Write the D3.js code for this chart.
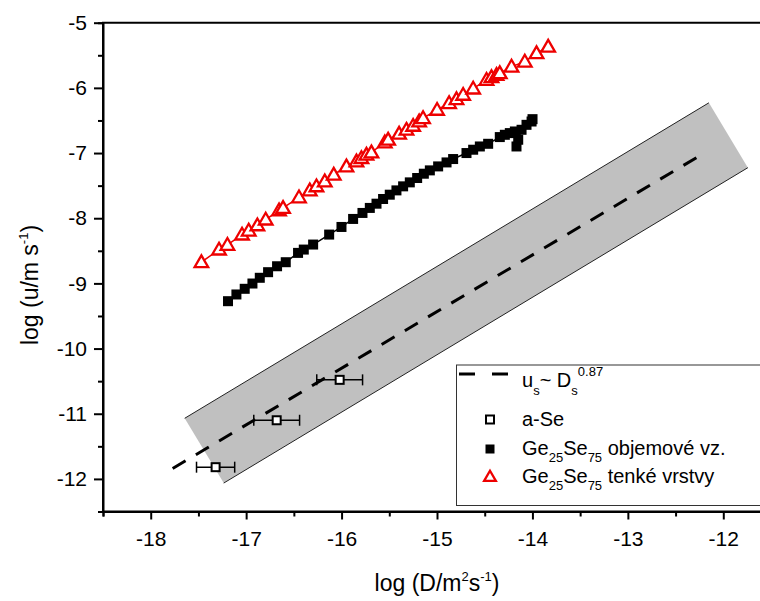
<!DOCTYPE html>
<html><head><meta charset="utf-8">
<script src="https://cdn.jsdelivr.net/npm/d3@7"></script>
<style>body{margin:0;background:#fff;} svg{display:block;font-family:"Liberation Sans",Arial,sans-serif;}</style>
</head><body><svg id="c" width="760" height="601"></svg>
<script>
// Ge25Se75 thin films (red triangles)
const thinX = [-17.469,-17.284,-17.196,-17.043,-16.973,-16.882,-16.795,-16.655,-16.613,-16.446,-16.333,-16.263,-16.176,-16.082,-15.949,-15.844,-15.792,-15.739,-15.687,-15.547,-15.512,-15.397,-15.320,-15.250,-15.187,-15.146,-14.999,-14.873,-14.796,-14.726,-14.621,-14.481,-14.429,-14.376,-14.342,-14.219,-14.080,-13.957,-13.835];
const thinY = [-8.675,-8.481,-8.409,-8.251,-8.190,-8.109,-8.021,-7.879,-7.842,-7.680,-7.573,-7.511,-7.435,-7.332,-7.205,-7.129,-7.077,-7.026,-6.991,-6.838,-6.796,-6.704,-6.643,-6.582,-6.516,-6.464,-6.337,-6.234,-6.173,-6.107,-6.011,-5.877,-5.836,-5.801,-5.775,-5.674,-5.597,-5.469,-5.368];
// Ge25Se75 bulk (black squares)
const bulkX = [-17.190,-17.102,-17.015,-16.934,-16.857,-16.770,-16.676,-16.585,-16.456,-16.396,-16.298,-16.130,-16.001,-15.879,-15.781,-15.704,-15.634,-15.565,-15.495,-15.425,-15.355,-15.285,-15.208,-15.138,-15.075,-14.988,-14.900,-14.831,-14.691,-14.621,-14.551,-14.464,-14.342,-14.289,-14.237,-14.184,-14.167,-14.149,-14.114,-14.062,-14.009,-13.999];
const bulkY = [-9.273,-9.170,-9.083,-9.002,-8.914,-8.828,-8.737,-8.675,-8.532,-8.481,-8.404,-8.251,-8.134,-8.011,-7.919,-7.842,-7.777,-7.705,-7.639,-7.573,-7.511,-7.450,-7.383,-7.317,-7.266,-7.205,-7.144,-7.092,-7.000,-6.949,-6.899,-6.858,-6.755,-6.720,-6.694,-6.669,-6.899,-6.796,-6.643,-6.567,-6.516,-6.480];
// a-Se with x error bars
const aSeX = [-17.32,-16.68,-16.02];
const aSeY = [-11.82,-11.10,-10.48];
const aSeErr = [0.20,0.24,0.24];
// fit line u_s ~ D_s^0.87
const fitX = [-17.77,-12.20];
const fitY = [-11.84,-7.00];
// grey band corners
const bandX = [-17.644,-12.151,-11.742,-17.235];
const bandY = [-11.07,-6.229,-7.224,-12.064];
const xTicks = [-18,-17,-16,-15,-14,-13,-12];
const xMinor = [-18.5,-17.5,-16.5,-15.5,-14.5,-13.5,-12.5];
const yTicks = [-12,-11,-10,-9,-8,-7,-6,-5];
const yMinor = [-12.5,-11.5,-10.5,-9.5,-8.5,-7.5,-6.5,-5.5];

const svg = d3.select('#c');
const x = d3.scaleLinear().domain([-18.5,-11.5]).range([103,771]);
const y = d3.scaleLinear().domain([-12.5,-5]).range([511.5,22.7]);

// band
const band = bandX.map((v,i)=>[x(v),y(bandY[i])]);
svg.append('path').attr('d', d3.line()(band)+'Z').attr('fill','#c0c0c0').attr('stroke','none');
svg.append('path').attr('d', d3.line()([band[0],band[1]])).attr('stroke','#222').attr('stroke-width',1).attr('fill','none');
svg.append('path').attr('d', d3.line()([band[3],band[2]])).attr('stroke','#222').attr('stroke-width',1).attr('fill','none');

// fit line
svg.append('path').attr('d', d3.line()(fitX.map((v,i)=>[x(v),y(fitY[i])])))
  .attr('stroke','#000').attr('stroke-width',3).attr('stroke-dasharray','15,12').attr('fill','none');

// a-Se
const ag = svg.append('g');
aSeX.forEach((v,i)=>{
  const cx=x(v), cy=y(aSeY[i]), l=x(v-aSeErr[i]), r=x(v+aSeErr[i]);
  ag.append('line').attr('x1',l).attr('x2',r).attr('y1',cy).attr('y2',cy).attr('stroke','#000').attr('stroke-width',1.5);
  ag.append('line').attr('x1',l).attr('x2',l).attr('y1',cy-5.5).attr('y2',cy+5.5).attr('stroke','#000').attr('stroke-width',1.5);
  ag.append('line').attr('x1',r).attr('x2',r).attr('y1',cy-5.5).attr('y2',cy+5.5).attr('stroke','#000').attr('stroke-width',1.5);
  ag.append('rect').attr('x',cx-4).attr('y',cy-4).attr('width',8).attr('height',8).attr('fill','#fff').attr('stroke','#000').attr('stroke-width',2);
});

// bulk
svg.append('path').attr('d', d3.line()(bulkX.map((v,i)=>[x(v),y(bulkY[i])]))).attr('stroke','#000').attr('stroke-width',1.5).attr('fill','none');
svg.append('g').selectAll('rect').data(bulkX).join('rect')
  .attr('x',(d)=>x(d)-5).attr('y',(d,i)=>y(bulkY[i])-5).attr('width',10).attr('height',10).attr('fill','#000');

// thin films
svg.append('path').attr('d', d3.line()(thinX.map((v,i)=>[x(v),y(thinY[i])]))).attr('stroke','#e00').attr('stroke-width',1.5).attr('fill','none');
const tri = d3.symbol().type(d3.symbolTriangle).size(80);
svg.append('g').selectAll('path').data(thinX).join('path')
  .attr('d',tri).attr('transform',(d,i)=>`translate(${x(d)},${y(thinY[i])+1})`)
  .attr('fill','#fff').attr('stroke','#e00').attr('stroke-width',2.3);

// axes
const fs = '21px';
const fmt = d => String(d);
const gx = svg.append('g').attr('transform','translate(0,511.5)')
  .call(d3.axisBottom(x).tickValues(xTicks).tickSize(8).tickSizeOuter(0).tickPadding(12).tickFormat(fmt));
gx.append('g').call(d3.axisBottom(x).tickValues(xMinor).tickSize(5).tickFormat(''));
const gy = svg.append('g').attr('transform','translate(103,0)')
  .call(d3.axisLeft(y).tickValues(yTicks).tickSize(9).tickSizeOuter(0).tickPadding(7).tickFormat(fmt));
gy.append('g').call(d3.axisLeft(y).tickValues(yMinor).tickSize(5).tickFormat(''));
svg.selectAll('.domain').attr('stroke','#000').attr('stroke-width',2);
svg.selectAll('.tick line').attr('stroke','#000').attr('stroke-width',2);
svg.selectAll('.tick text').attr('font-size',fs).attr('font-family','"Liberation Sans",Arial,sans-serif').attr('fill','#000');
gx.select('.domain').attr('d','M102,0H771');
gy.select('.domain').attr('d','M0,22.7V512.5');
// top axis line
svg.append('line').attr('x1',102).attr('x2',771).attr('y1',22.7).attr('y2',22.7).attr('stroke','#000').attr('stroke-width',2);

// axis titles
const xt = svg.append('text').attr('x',437).attr('y',591).attr('text-anchor','middle').attr('font-size','23px');
xt.append('tspan').text('log (D/m');
xt.append('tspan').attr('font-size','13px').attr('dy',-10).text('2');
xt.append('tspan').attr('dy',10).text('s');
xt.append('tspan').attr('font-size','13px').attr('dy',-10).text('-1');
xt.append('tspan').attr('dy',10).text(')');
const yt = svg.append('text').attr('transform','translate(38,285) rotate(-90)').attr('text-anchor','middle').attr('font-size','23px');
yt.append('tspan').text('log (u/m s');
yt.append('tspan').attr('font-size','13px').attr('dy',-10).text('-1');
yt.append('tspan').attr('dy',10).text(')');

// legend
const lg = svg.append('g');
lg.append('rect').attr('x',456.5).attr('y',365).attr('width',320).attr('height',140.5).attr('fill','#fff').attr('stroke','#333').attr('stroke-width',1);
lg.append('line').attr('x1',459).attr('x2',508).attr('y1',374).attr('y2',374).attr('stroke','#000').attr('stroke-width',3).attr('stroke-dasharray','16,17');
const t1 = lg.append('text').attr('x',522).attr('y',387).attr('font-size','20px');
t1.append('tspan').text('u');
t1.append('tspan').attr('font-size','13px').attr('dy',8).text('s');
t1.append('tspan').attr('dy',-8).text('~ D');
t1.append('tspan').attr('font-size','13px').attr('dy',8).text('s');
t1.append('tspan').attr('font-size','13px').attr('dy',-19).text('0.87');
lg.append('rect').attr('x',486).attr('y',415.5).attr('width',8).attr('height',8).attr('fill','#fff').attr('stroke','#000').attr('stroke-width',2);
lg.append('text').attr('x',522).attr('y',426).attr('font-size','20px').text('a-Se');
lg.append('rect').attr('x',485.5).attr('y',444.5).attr('width',9).attr('height',9).attr('fill','#000');
function geSe(yy, rest){
  const t = lg.append('text').attr('x',522).attr('y',yy).attr('font-size','20px');
  t.append('tspan').text('Ge');
  t.append('tspan').attr('font-size','13px').attr('dy',7).text('25');
  t.append('tspan').attr('dy',-7).text('Se');
  t.append('tspan').attr('font-size','13px').attr('dy',7).text('75');
  t.append('tspan').attr('dy',-7).text(rest);
}
geSe(455,' objemové vz.');
lg.append('path').attr('d',d3.symbol().type(d3.symbolTriangle).size(60)).attr('transform','translate(490,477.5)').attr('fill','#fff').attr('stroke','#e00').attr('stroke-width',2.3);
geSe(483,' tenké vrstvy');
</script></body></html>
